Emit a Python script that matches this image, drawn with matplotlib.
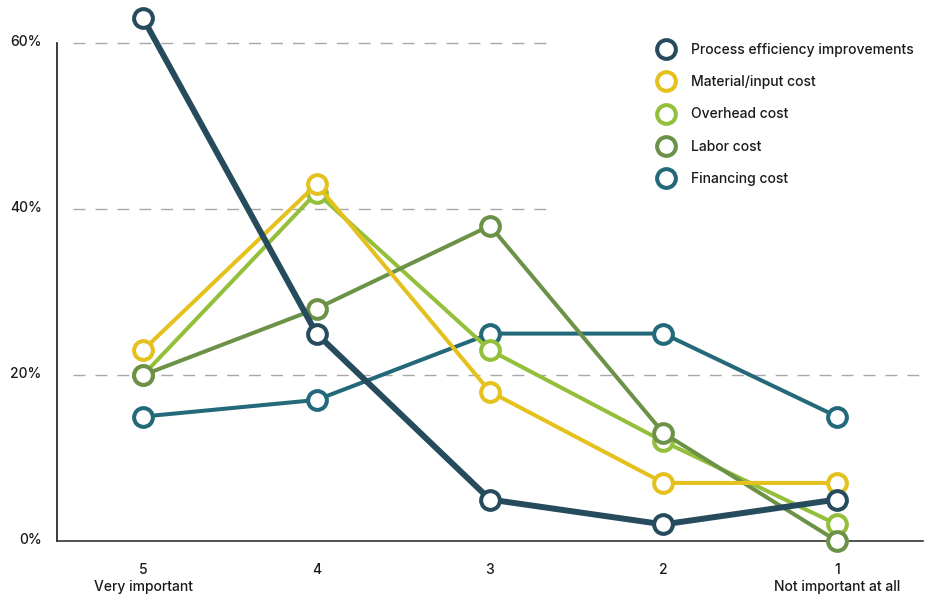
import matplotlib
matplotlib.use("Agg")
import matplotlib.pyplot as plt
from matplotlib.lines import Line2D
from matplotlib.transforms import ScaledTranslation

plt.rcParams['font.family'] = ['Inter', 'DejaVu Sans']
plt.rcParams['font.weight'] = 'medium'

# Importance scale, from most to least important
levels = ["5\nVery important", "4", "3", "2", "1\nNot important at all"]

# Share of respondents (%) per factor at each importance level
process_efficiency = [63, 25, 5, 2, 5]
material_input = [23, 43, 18, 7, 7]
overhead = [20, 42, 23, 12, 2]
labor = [20, 28, 38, 13, 0]
financing = [15, 17, 25, 25, 15]

y_ticks = [0, 20, 40, 60]
y_tick_labels = ["0%", "20%", "40%", "60%"]

series = [
    ("Financing cost", financing, "#23697a", 2.9),
    ("Overhead cost", overhead, "#93bf3b", 2.9),
    ("Labor cost", labor, "#6c9247", 2.9),
    ("Material/input cost", material_input, "#e4c11d", 2.9),
    ("Process efficiency improvements", process_efficiency, "#264b5d", 4.3),
]
legend_order = [
    "Process efficiency improvements",
    "Material/input cost",
    "Overhead cost",
    "Labor cost",
    "Financing cost",
]

W, H = 930, 594
fig = plt.figure(figsize=(W / 100, H / 100), dpi=100)
ax_left, ax_right, ax_bottom, ax_top = 57, 923, 541, 10
ax = fig.add_axes([ax_left / W, (H - ax_bottom) / H,
                   (ax_right - ax_left) / W, (ax_bottom - ax_top) / H])

x = list(range(len(levels)))
handles = {}
for name, vals, color, lw in series:
    ax.plot(x, vals, color=color, lw=lw, marker="o", markersize=13.5,
            markerfacecolor="white", markeredgecolor=color,
            markeredgewidth=2.9, clip_on=False, zorder=3,
            solid_capstyle="round", solid_joinstyle="round")
    handles[name] = Line2D([], [], lw=0, marker="o", markersize=13.5,
                           markerfacecolor="white", markeredgecolor=color,
                           markeredgewidth=2.9)

ax.set_xlim(-0.496, 4.496)
ax.set_ylim(0, 64)

# dashed reference lines; upper ones stop short of the legend
grid_style = dict(color="#a8a8a8", lw=1.0, dashes=(8.6, 7.2), zorder=1)
x0 = (73 - ax_left) / (ax_right - ax_left)
x_short = (549 - ax_left) / (ax_right - ax_left)
ax.axhline(20, xmin=x0, xmax=1.0, **grid_style)
ax.axhline(40, xmin=x0, xmax=x_short, **grid_style)
ax.axhline(60, xmin=x0, xmax=x_short, **grid_style)

for side in ("top", "right"):
    ax.spines[side].set_visible(False)
ax.spines["left"].set_bounds(0, 60)
ax.spines["left"].set_color("#1a1a1a")
ax.spines["left"].set_linewidth(1.2)
ax.spines["bottom"].set_color("#333333")
ax.spines["bottom"].set_linewidth(1.2)

ax.set_yticks(y_ticks)
ax.set_yticklabels(y_tick_labels)
ax.set_xticks(x)
ax.set_xticklabels(levels, linespacing=1.3)
ax.tick_params(axis="both", length=0, labelsize=10, colors="#1a1a1a")
ax.tick_params(axis="y", pad=11)
ax.tick_params(axis="x", pad=15.5)
for lbl in ax.get_yticklabels():
    lbl.set_transform(lbl.get_transform() + ScaledTranslation(0, 3 / 100, fig.dpi_scale_trans))

leg = fig.legend([handles[n] for n in legend_order], legend_order,
                 loc="upper left", bbox_to_anchor=(659.4 / W, (H - 43) / H),
                 frameon=False, fontsize=10, handlelength=1.0,
                 handletextpad=1.25, labelspacing=1.31, borderpad=0,
                 borderaxespad=0)
for t in leg.get_texts():
    t.set_color("#1a1a1a")

fig.savefig("out.png", dpi=100)
